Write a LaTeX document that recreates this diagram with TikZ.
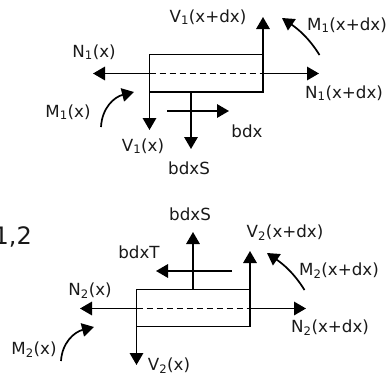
\documentclass[tikz,border=0pt]{standalone}
\usepackage{fontspec}
\setmainfont{DejaVu Sans}
\usetikzlibrary{arrows.meta}
\newcommand{\sbs}[1]{\textsubscript{#1}}
\tikzset{
  lbl/.style={inner sep=0pt,font=\fontsize{16.7}{19}\selectfont,text=black!90},
  big/.style={inner sep=0pt,font=\fontsize{24}{27}\selectfont,text=black!90},
  force/.style={line width=1.7pt,-{Triangle[length=12pt,width=13.5pt]}},
  bar/.style={draw,line width=1.1pt,minimum width=113.5pt,minimum height=37.5pt,inner sep=0pt},
  mid/.style={line width=1.1pt,dash pattern=on 6pt off 4pt}
}
\begin{document}
\begin{tikzpicture}[x=1pt,y=-1pt]
\useasboundingbox (0,0) rectangle (386,375);
\clip (0,0) rectangle (386,375);
% top element
\node[bar] (b1) at (206.25,73.25) {};
\coordinate (l1) at (149.5,73.5);
\coordinate (r1) at (263,73.5);
\coordinate (nl1) at (93,73.5);
\coordinate (nr1) at (319,73.5);
\coordinate (vu1) at (263,17);
\coordinate (vd1) at (149.5,130);
\coordinate (s0) at (191,92);
\coordinate (s1) at (191,149);
\coordinate (h0) at (167,111);
\coordinate (h1) at (229,111);
\coordinate (m1a) at (101,127);
\coordinate (m1b) at (134,92);
\coordinate (m2a) at (319.5,55);
\coordinate (m2b) at (282,18);
\draw[mid] (l1) -- (r1);
\draw[force] (l1) -- (nl1);
\draw[force] (r1) -- (nr1);
\draw[force] (r1) -- (vu1);
\draw[force] (l1) -- (vd1);
\draw[force] (s0) -- (s1);
\draw[force] (h0) -- (h1);
\draw[force] (m1a) .. controls (102,108) and (114,97) .. (m1b);
\draw[force] (m2a) .. controls (309,38) and (298,29) .. (m2b);
\node[lbl] (t1) at (208,17) {V\sbs{1}(x+dx)};
\node[lbl] (t2) at (347,25) {M\sbs{1}(x+dx)};
\node[lbl] (t3) at (94,52) {N\sbs{1}(x)};
\node[lbl] (t4) at (344,93) {N\sbs{1}(x+dx)};
\node[lbl] (t5) at (68,112) {M\sbs{1}(x)};
\node[lbl] (t6) at (143,146) {V\sbs{1}(x)};
\node[lbl] (t7) at (247,131) {bdx};
\node[lbl] (t8) at (189,168) {bdxS};
% bottom element
\node[big,anchor=east] (t0) at (32,237) {1,2};
\node[bar] (b2) at (193.25,308) {};
\coordinate (l2) at (136.5,308.5);
\coordinate (r2) at (250,308.5);
\coordinate (nl2) at (80,308.5);
\coordinate (nr2) at (306,308.5);
\coordinate (vu2) at (250,251);
\coordinate (vd2) at (136.5,365);
\coordinate (s2) at (193,289);
\coordinate (s3) at (193,232);
\coordinate (h2) at (232,271);
\coordinate (h3) at (156,271);
\coordinate (m3a) at (61,361);
\coordinate (m3b) at (94,327);
\coordinate (m4a) at (304.5,290);
\coordinate (m4b) at (267,253);
\draw[mid] (l2) -- (r2);
\draw[force] (l2) -- (nl2);
\draw[force] (r2) -- (nr2);
\draw[force] (r2) -- (vu2);
\draw[force] (l2) -- (vd2);
\draw[force] (s2) -- (s3);
\draw[force] (h2) -- (h3);
\draw[force] (m3a) .. controls (62,343) and (74,332) .. (m3b);
\draw[force] (m4a) .. controls (294,273) and (283,264) .. (m4b);
\node[lbl] (u1) at (190,214) {bdxS};
\node[lbl] (u2) at (285,233) {V\sbs{2}(x+dx)};
\node[lbl] (u3) at (139,252) {bdxT};
\node[lbl] (u4) at (339,271) {M\sbs{2}(x+dx)};
\node[lbl] (u5) at (90,291) {N\sbs{2}(x)};
\node[lbl] (u6) at (330,328) {N\sbs{2}(x+dx)};
\node[lbl] (u7) at (34,350) {M\sbs{2}(x)};
\node[lbl] (u8) at (169,366) {V\sbs{2}(x)};
\end{tikzpicture}
\end{document}
